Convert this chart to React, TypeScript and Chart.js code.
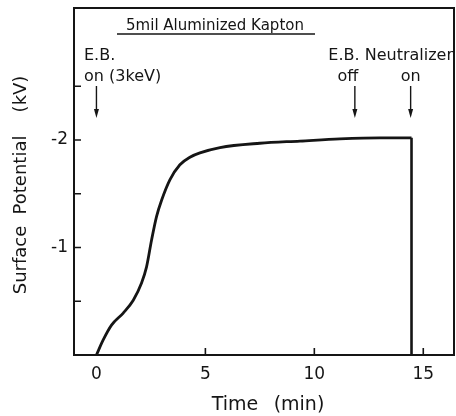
import React, { useEffect, useRef } from "react";
import { Chart, registerables } from "chart.js";

Chart.register(...registerables);

// Data
const timeMin = [0, 0.31, 0.7, 1.23, 1.69, 2.07, 2.3, 2.53, 2.76, 2.99, 3.37, 3.83, 4.29, 4.75, 5.67, 7.5, 9.34, 11.17, 13.0, 14.46];
const potentialKV = [0, -0.14, -0.28, -0.39, -0.51, -0.67, -0.82, -1.07, -1.29, -1.44, -1.63, -1.77, -1.84, -1.88, -1.93, -1.97, -1.99, -2.01, -2.02, -2.02];
const dropTime = [14.46, 14.46];
const dropPotential = [-2.02, 0];

const xTickValues = [0, 5, 10, 15];
const xTickMarks = [5, 10, 15];
const yTickLabelValues = [-2, -1];
const yTickMarks = [-0.5, -1, -1.5, -2, -2.5];

const titleText = "5mil Aluminized Kapton";
const arrowTimes = [0, 11.86, 14.42];

const FONT = "'DejaVu Sans', sans-serif";
const INK = "#151515";

const annotationPlugin = {
  id: "annotations",
  afterDraw(chart: any) {
    const ctx = chart.ctx;
    const area = chart.chartArea;
    const xs = chart.scales.x;
    const ys = chart.scales.y;
    ctx.save();
    ctx.strokeStyle = INK;
    ctx.fillStyle = INK;

    // frame
    ctx.lineWidth = 2;
    ctx.strokeRect(area.left, area.top, area.right - area.left, area.bottom - area.top);

    // inward ticks
    ctx.lineWidth = 1.6;
    ctx.beginPath();
    yTickMarks.forEach((v) => {
      const y = ys.getPixelForValue(v);
      ctx.moveTo(area.left, y);
      ctx.lineTo(area.left + 7, y);
    });
    xTickMarks.forEach((v) => {
      const x = xs.getPixelForValue(v);
      ctx.moveTo(x, area.bottom);
      ctx.lineTo(x, area.bottom - 7);
    });
    ctx.stroke();

    // arrows
    arrowTimes.forEach((t) => {
      const x = xs.getPixelForValue(t);
      ctx.lineWidth = 1.4;
      ctx.beginPath();
      ctx.moveTo(x, 86);
      ctx.lineTo(x, 112);
      ctx.stroke();
      ctx.beginPath();
      ctx.moveTo(x, 118);
      ctx.lineTo(x - 2.5, 109);
      ctx.lineTo(x + 2.5, 109);
      ctx.closePath();
      ctx.fill();
    });

    // title with underline
    ctx.textBaseline = "alphabetic";
    ctx.textAlign = "center";
    ctx.font = `15px ${FONT}`;
    ctx.fillText(titleText, 215, 30);
    ctx.lineWidth = 1.5;
    ctx.beginPath();
    ctx.moveTo(117, 34);
    ctx.lineTo(315, 34);
    ctx.stroke();

    // labels
    ctx.font = `16px ${FONT}`;
    ctx.textAlign = "left";
    ctx.fillText("E.B.", 84, 60);
    ctx.fillText("on (3keV)", 84, 81);
    ctx.textAlign = "right";
    ctx.fillText("E.B. Neutralizer", 453, 60);
    ctx.textAlign = "center";
    ctx.fillText("off", xs.getPixelForValue(arrowTimes[1]) - 7, 81);
    ctx.fillText("on", xs.getPixelForValue(arrowTimes[2]), 81);

    // axis titles
    ctx.font = `19px ${FONT}`;
    ctx.textAlign = "center";
    ctx.fillText("Time", 235, 410);
    ctx.fillText("(min)", 299, 410);

    ctx.save();
    ctx.translate(26, 0);
    ctx.rotate(-Math.PI / 2);
    ctx.font = `18px ${FONT}`;
    ctx.fillText("Surface", -260, 0);
    ctx.fillText("Potential", -175, 0);
    ctx.fillText("(kV)", -94, 0);
    ctx.restore();

    ctx.restore();
  },
};

export default function App() {
  const ref = useRef<HTMLCanvasElement | null>(null);

  useEffect(() => {
    if (!ref.current) return;
    const chart = new Chart(ref.current, {
      type: "line",
      data: {
        datasets: [
          {
            data: timeMin.map((t, i) => ({ x: t, y: potentialKV[i] })),
            borderColor: INK,
            borderWidth: 2.8,
            pointRadius: 0,
            cubicInterpolationMode: "monotone",
            fill: false,
          },
          {
            data: dropTime.map((t, i) => ({ x: t, y: dropPotential[i] })),
            borderColor: INK,
            borderWidth: 2.6,
            pointRadius: 0,
            tension: 0,
            fill: false,
          },
        ],
      },
      options: {
        responsive: false,
        animation: false,
        devicePixelRatio: 1,
        layout: { padding: { top: 8, right: 2, left: 0, bottom: 0 } },
        plugins: { legend: { display: false }, tooltip: { enabled: false }, title: { display: false } },
        scales: {
          x: {
            type: "linear",
            min: -1.03,
            max: 16.41,
            grid: { display: false, drawTicks: false },
            border: { display: false },
            afterFit: (s: any) => {
              s.height = 61;
              s.paddingLeft = 0;
              s.paddingRight = 0;
            },
            afterBuildTicks: (s: any) => {
              s.ticks = xTickValues.map((v) => ({ value: v }));
            },
            ticks: {
              autoSkip: false,
              maxRotation: 0,
              padding: 9,
              color: INK,
              font: { family: FONT, size: 17 },
              callback: (v: any) => String(v),
            },
          },
          y: {
            type: "linear",
            min: -3.228,
            max: 0,
            reverse: true,
            grid: { display: false, drawTicks: false },
            border: { display: false },
            afterFit: (s: any) => {
              s.width = 74;
              s.paddingTop = 0;
              s.paddingBottom = 0;
            },
            afterBuildTicks: (s: any) => {
              s.ticks = yTickLabelValues.map((v) => ({ value: v }));
            },
            ticks: {
              autoSkip: false,
              padding: 6,
              color: INK,
              font: { family: FONT, size: 17 },
              callback: (v: any) => "-" + String(Math.abs(v)),
            },
          },
        },
      },
      plugins: [annotationPlugin],
    } as any);
    return () => chart.destroy();
  }, []);

  return (
    <div style={{ position: "fixed", left: 0, top: 0, width: 456, height: 416, background: "#fff" }}>
      <canvas ref={ref} width={456} height={416} style={{ width: 456, height: 416, display: "block" }} />
    </div>
  );
}
